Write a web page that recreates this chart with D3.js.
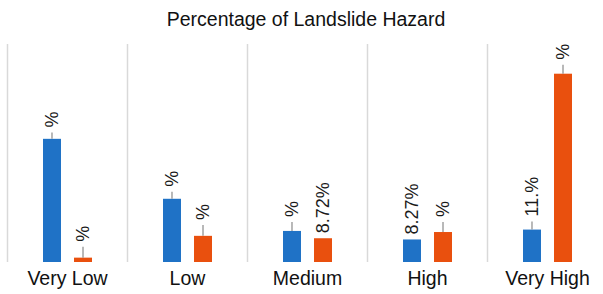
<!DOCTYPE html>
<html lang="en">
  <head>
    <meta charset="utf-8">
    <title>Percentage of Landslide Hazard</title>
    <script src="https://cdn.jsdelivr.net/npm/d3@7"></script>
    <style>
      body { margin: 0; background: #fff; }
      text { font-family: "Liberation Sans", Arial, sans-serif; }
    </style>
  </head>
  <body>
    <script>
    // categories and the two series (percent of area)
    var categories = ["Very Low", "Low", "Medium", "High", "Very High"];
    var seriesNames = ["a", "b"];
    var blueValues = [45.2, 23.2, 11.4, 8.27, 11.9];
    var orangeValues = [1.6, 9.6, 8.72, 11.0, 69.1];
    var blueErrors = [2.3, 2.6, 3.3, 0, 3.0];
    var orangeErrors = [4.0, 4.0, 0, 3.7, 3.3];
    var blueLabels = ["%", "%", "%", "8.27%", "11.%"];
    var orangeLabels = ["%", "%", "8.72%", "%", "%"];
    var colors = ["#1f72c6", "#e9500e"];

    var w = 603, h = 294;

    var svg = d3.select("body").append("svg")
      .attr("width", w)
      .attr("height", h);

    // title
    svg.append("text")
      .attr("x", 306)
      .attr("y", 26)
      .attr("text-anchor", "middle")
      .attr("font-size", 19.5)
      .attr("fill", "#111")
      .text("Percentage of Landslide Hazard");

    var xScale = d3.scaleBand()
      .domain(categories)
      .range([7, 607]);

    var subScale = d3.scaleBand()
      .domain(seriesNames)
      .range([36, 85])
      .paddingInner(0.42);

    var yScale = d3.scaleLinear()
      .domain([0, 80])
      .range([262, 44]);

    // category separators
    svg.selectAll("line.sep")
      .data(categories)
      .enter()
      .append("line")
      .attr("class", "sep")
      .attr("x1", function(d) { return xScale(d) + 0.5; })
      .attr("x2", function(d) { return xScale(d) + 0.5; })
      .attr("y1", yScale(80))
      .attr("y2", yScale(0))
      .attr("stroke", "#d9d9d9")
      .attr("stroke-width", 1.5);

    // build rows for bars
    var rows = [];
    categories.forEach(function(c, i) {
      rows.push({cat: c, s: "a", v: blueValues[i], e: blueErrors[i], label: blueLabels[i], color: colors[0]});
      rows.push({cat: c, s: "b", v: orangeValues[i], e: orangeErrors[i], label: orangeLabels[i], color: colors[1]});
    });

    var cx = function(d) { return xScale(d.cat) + subScale(d.s) + subScale.bandwidth() / 2; };

    svg.selectAll("rect.bar")
      .data(rows)
      .enter()
      .append("rect")
      .attr("class", "bar")
      .attr("x", function(d) { return xScale(d.cat) + subScale(d.s); })
      .attr("y", function(d) { return yScale(d.v); })
      .attr("width", subScale.bandwidth())
      .attr("height", function(d) { return yScale(0) - yScale(d.v); })
      .attr("fill", function(d) { return d.color; });

    // error whiskers (upper only)
    svg.selectAll("line.err")
      .data(rows.filter(function(d) { return d.e > 0; }))
      .enter()
      .append("line")
      .attr("class", "err")
      .attr("x1", cx)
      .attr("x2", cx)
      .attr("y1", function(d) { return yScale(d.v); })
      .attr("y2", function(d) { return yScale(d.v + d.e); })
      .attr("stroke", "#8a8a8a")
      .attr("stroke-width", 1.2);

    // rotated value labels
    svg.selectAll("text.val")
      .data(rows)
      .enter()
      .append("text")
      .attr("class", "val")
      .attr("transform", function(d) {
        return "translate(" + cx(d) + "," + (yScale(d.v + d.e) - 5) + ") rotate(-90)";
      })
      .attr("dy", "0.35em")
      .attr("font-size", 18)
      .attr("fill", "#1a1a1a")
      .text(function(d) { return d.label; });

    // category labels
    svg.selectAll("text.cat")
      .data(categories)
      .enter()
      .append("text")
      .attr("class", "cat")
      .attr("x", function(d) { return xScale(d) + 60.5; })
      .attr("y", 285)
      .attr("text-anchor", "middle")
      .attr("font-size", 19.5)
      .attr("fill", "#111")
      .text(function(d) { return d; });
    </script>
  </body>
</html>
